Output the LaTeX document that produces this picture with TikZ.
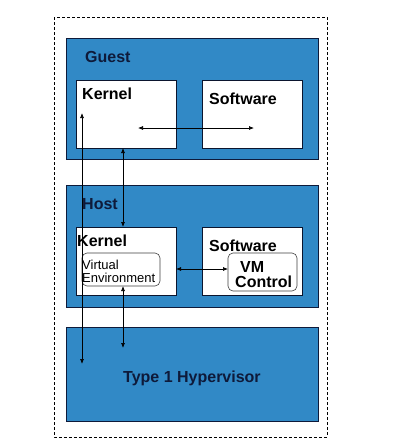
\documentclass[tikz,border=0pt]{standalone}
\usepackage{fontspec}
\setmainfont{Liberation Sans}
\usetikzlibrary{arrows.meta}
\definecolor{hvblue}{HTML}{3189C6}
\definecolor{navy}{HTML}{0E1A3A}
\begin{document}
\begin{tikzpicture}[x=1pt,y=-1pt,
  layer/.style={draw=navy, line width=0.8pt, fill=hvblue, anchor=north west, inner sep=0pt, outer sep=0pt},
  wbox/.style={draw=navy!80!black, line width=0.6pt, fill=white, anchor=north west, inner sep=0pt, outer sep=0pt},
  rbox/.style={draw=black!75, line width=0.6pt, fill=white, rounded corners=5pt, anchor=north west, inner sep=0pt, outer sep=0pt},
  lbl/.style={font=\bfseries\fontsize{16}{18}\selectfont, text=navy, inner sep=0pt, anchor=base west},
  blbl/.style={font=\bfseries\fontsize{16}{18}\selectfont, text=black, inner sep=0pt, anchor=base west},
  slbl/.style={font=\fontsize{13}{15}\selectfont, text=black, inner sep=0pt, anchor=base west},
  arr/.style={line width=0.7pt, draw=black, {Latex[length=5pt,width=4pt]}-{Latex[length=5pt,width=4pt]}}
]
\useasboundingbox (0,0) rectangle (400,448);
\fill[white] (0,0) rectangle (400,448);
\draw[dash pattern=on 3pt off 2pt, line width=0.7pt] (54,17) rectangle (327,437);

% Guest
\node[layer, minimum width=252pt, minimum height=121pt] (guest) at (66,38) {};
\node[lbl] (guestlbl) at (85,62) {Guest};
\node[wbox, minimum width=100pt, minimum height=68pt] (gk) at (76,80) {};
\node[blbl] (gklbl) at (82,99) {Kernel};
\node[wbox, minimum width=100pt, minimum height=68pt] (gs) at (202,80) {};
\node[blbl] (gslbl) at (209,104) {Software};

% Host
\node[layer, minimum width=252pt, minimum height=122pt] (host) at (66,185) {};
\node[lbl] (hostlbl) at (82,209) {Host};
\node[wbox, minimum width=100pt, minimum height=68pt] (hk) at (76,227) {};
\node[blbl] (hklbl) at (77,246) {Kernel};
\node[rbox, minimum width=78pt, minimum height=33pt] (ve) at (82,253) {};
\node[slbl] (velbl1) at (82,269) {Virtual};
\node[slbl] (velbl2) at (82,282.5) {Environment};
\node[wbox, minimum width=100pt, minimum height=68pt] (hs) at (202,227) {};
\node[blbl] (hslbl) at (209,251) {Software};
\node[rbox, minimum width=69pt, minimum height=38pt] (vm) at (228,253) {};
\node[blbl] (vmlbl1) at (240,272) {VM};
\node[blbl] (vmlbl2) at (235,287) {Control};

% Hypervisor
\node[layer, minimum width=252pt, minimum height=94pt] (hyp) at (66,327) {};
\node[lbl] (hyplbl) at (123,382) {Type 1 Hypervisor};

% connectors
\coordinate (l1a) at (82,113);
\coordinate (l1b) at (82,364);
\draw[arr] (l1a) -- (l1b);
\coordinate (l2a) at (123,148);
\coordinate (l2b) at (123,227);
\draw[arr] (l2a) -- (l2b);
\coordinate (l3a) at (123,286);
\coordinate (l3b) at (123,348);
\draw[arr] (l3a) -- (l3b);
\coordinate (h1a) at (138,128);
\coordinate (h1b) at (254,128);
\draw[arr] (h1a) -- (h1b);
\coordinate (h2a) at (176,269);
\coordinate (h2b) at (228,269);
\draw[arr] (h2a) -- (h2b);
\end{tikzpicture}
\end{document}
